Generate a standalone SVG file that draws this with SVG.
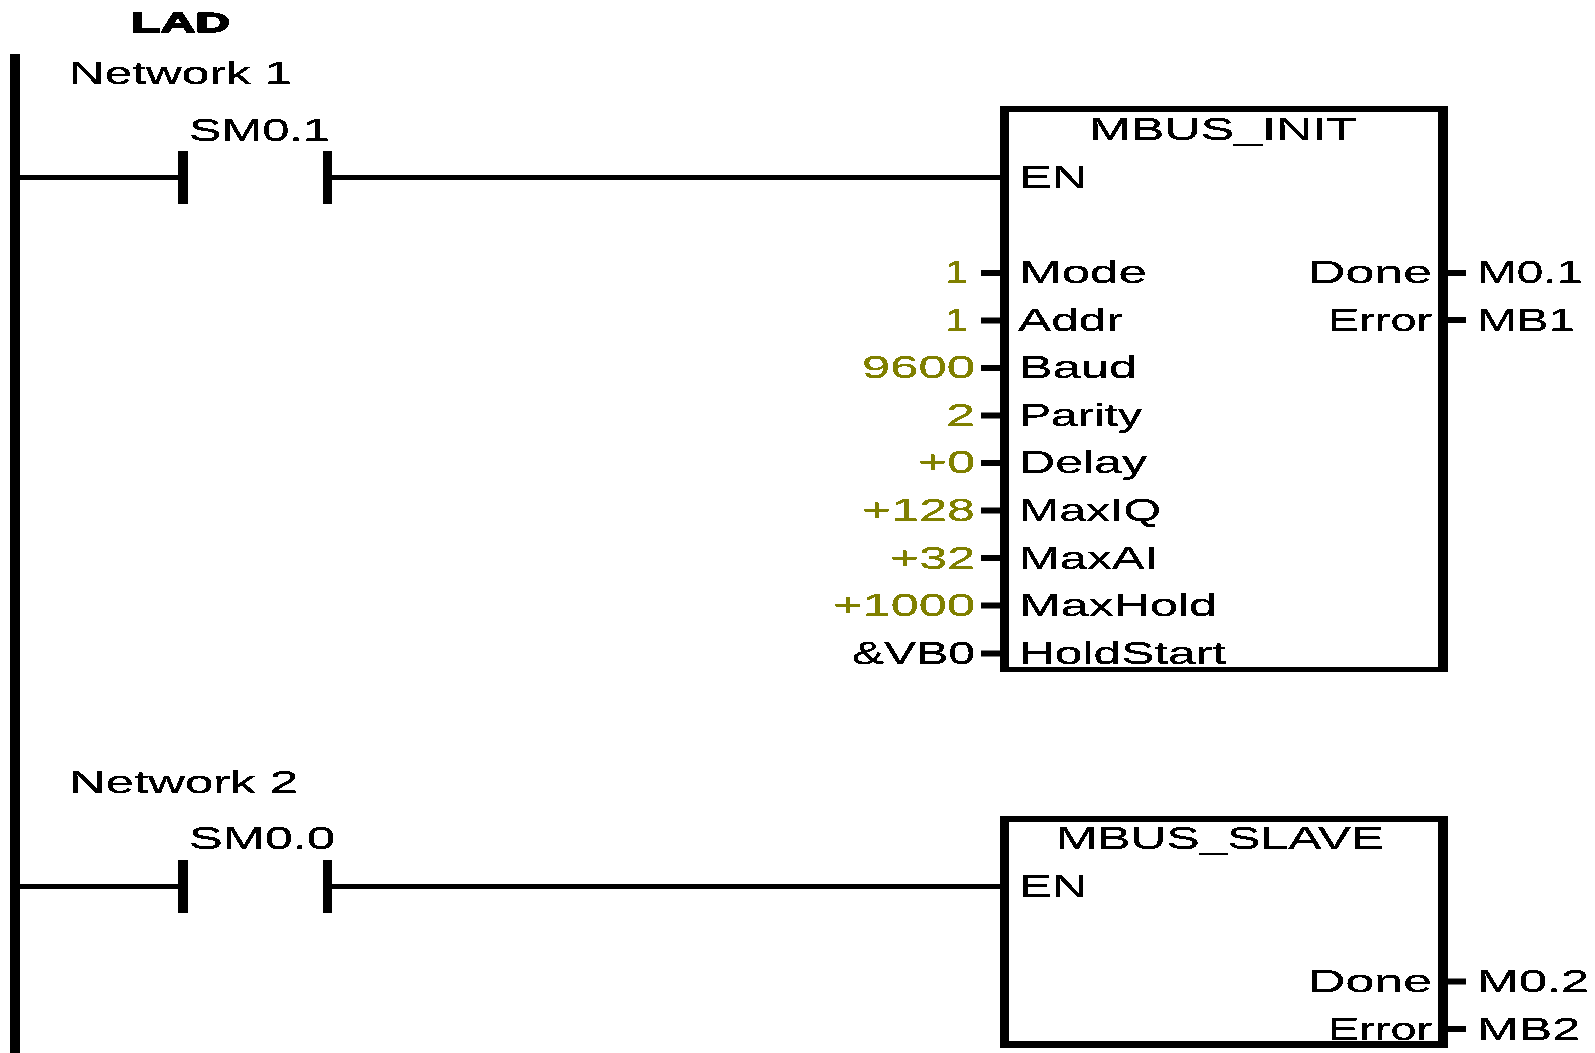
<svg xmlns="http://www.w3.org/2000/svg" width="1595" height="1053" viewBox="0 0 1595 1053">
<defs>
<filter id="crisp" x="-5%" y="-20%" width="110%" height="140%" color-interpolation-filters="sRGB">
<feComponentTransfer><feFuncA type="discrete" tableValues="0 1 1 1"/></feComponentTransfer>
</filter>
</defs>
<style>
text{font-family:"Liberation Sans",Arial,sans-serif;font-size:32px;fill:#000;filter:url(#crisp)}
.c{fill:#808000}
.b{font-weight:bold;font-size:28px;stroke:#000;stroke-width:1px}
.w{fill:none;stroke:#000;stroke-width:5}
.s{fill:none;stroke:#000;stroke-width:6}
.bar{fill:#000}
.in{fill:#fff}
</style>
<rect width="1595" height="1053" fill="#fff"/>
<text class="b" x="131" y="32" textLength="99" lengthAdjust="spacingAndGlyphs">LAD</text>
<g id="connectors">
<rect id="rail" class="bar" x="10" y="54" width="10" height="999"/>
<path class="w" d="M20 177.500H178M332 177.500H1000"/>
<path class="w" d="M20 886.500H178M332 886.500H1000"/>
<path class="s" d="M981 273H1000M981 320.500H1000M981 368H1000M981 415.500H1000M981 463H1000M981 510.500H1000M981 558H1000M981 605.500H1000M981 653.500H1000"/>
<path class="s" d="M1448 273H1466M1448 320H1466"/>
<path class="s" d="M1448 981.500H1466M1448 1029H1466"/>
</g>
<g id="network1-label"><text x="69" y="84" textLength="223" lengthAdjust="spacingAndGlyphs">Network 1</text></g>
<g id="contact-sm01">
<text x="189" y="141" textLength="141" lengthAdjust="spacingAndGlyphs">SM0.1</text>
<rect class="bar" x="178" y="151" width="10" height="53"/><rect class="bar" x="323" y="151" width="9" height="53"/>
</g>
<g id="mbus-init">
<rect class="bar" x="1000" y="106" width="448" height="566"/>
<rect class="in" x="1009" y="112" width="429" height="555"/>
<text x="1089" y="140" textLength="268" lengthAdjust="spacingAndGlyphs">MBUS_INIT</text>
<text x="1019" y="188" textLength="68" lengthAdjust="spacingAndGlyphs">EN</text>
<text x="1019" y="283" textLength="128" lengthAdjust="spacingAndGlyphs">Mode</text>
<text x="1018" y="331" textLength="105" lengthAdjust="spacingAndGlyphs">Addr</text>
<text x="1019" y="378" textLength="118" lengthAdjust="spacingAndGlyphs">Baud</text>
<text x="1019" y="426" textLength="123" lengthAdjust="spacingAndGlyphs">Parity</text>
<text x="1019" y="473" textLength="128" lengthAdjust="spacingAndGlyphs">Delay</text>
<text x="1019" y="521" textLength="142" lengthAdjust="spacingAndGlyphs">MaxIQ</text>
<text x="1019" y="569" textLength="139" lengthAdjust="spacingAndGlyphs">MaxAI</text>
<text x="1019" y="616" textLength="198" lengthAdjust="spacingAndGlyphs">MaxHold</text>
<text x="1019" y="664" textLength="207" lengthAdjust="spacingAndGlyphs">HoldStart</text>
<text x="1308" y="283" textLength="124" lengthAdjust="spacingAndGlyphs">Done</text>
<text x="1328" y="331" textLength="104" lengthAdjust="spacingAndGlyphs">Error</text>
</g>
<g id="init-inputs">
<text class="c" x="945" y="283" textLength="23" lengthAdjust="spacingAndGlyphs">1</text>
<text class="c" x="945" y="331" textLength="23" lengthAdjust="spacingAndGlyphs">1</text>
<text class="c" x="862" y="378" textLength="113" lengthAdjust="spacingAndGlyphs">9600</text>
<text class="c" x="946" y="426" textLength="29" lengthAdjust="spacingAndGlyphs">2</text>
<text class="c" x="918" y="473" textLength="57" lengthAdjust="spacingAndGlyphs">+0</text>
<text class="c" x="862" y="521" textLength="113" lengthAdjust="spacingAndGlyphs">+128</text>
<text class="c" x="890" y="569" textLength="85" lengthAdjust="spacingAndGlyphs">+32</text>
<text class="c" x="833" y="616" textLength="142" lengthAdjust="spacingAndGlyphs">+1000</text>
<text x="852" y="664" textLength="123" lengthAdjust="spacingAndGlyphs">&amp;VB0</text>
</g>
<g id="init-outputs">
<text x="1477" y="283" textLength="106" lengthAdjust="spacingAndGlyphs">M0.1</text>
<text x="1477" y="331" textLength="98" lengthAdjust="spacingAndGlyphs">MB1</text>
</g>
<g id="network2-label"><text x="69" y="793" textLength="229" lengthAdjust="spacingAndGlyphs">Network 2</text></g>
<g id="contact-sm00">
<text x="189" y="849" textLength="146" lengthAdjust="spacingAndGlyphs">SM0.0</text>
<rect class="bar" x="178" y="860" width="10" height="53"/><rect class="bar" x="323" y="860" width="9" height="53"/>
</g>
<g id="mbus-slave">
<rect class="bar" x="1000" y="816" width="448" height="232"/>
<rect class="in" x="1009" y="822" width="429" height="219"/>
<text x="1056" y="849" textLength="328" lengthAdjust="spacingAndGlyphs">MBUS_SLAVE</text>
<text x="1019" y="897" textLength="68" lengthAdjust="spacingAndGlyphs">EN</text>
<text x="1308" y="992" textLength="124" lengthAdjust="spacingAndGlyphs">Done</text>
<text x="1328" y="1040" textLength="104" lengthAdjust="spacingAndGlyphs">Error</text>
</g>
<g id="slave-outputs">
<text x="1477" y="992" textLength="112" lengthAdjust="spacingAndGlyphs">M0.2</text>
<text x="1477" y="1040" textLength="103" lengthAdjust="spacingAndGlyphs">MB2</text>
</g>
</svg>
